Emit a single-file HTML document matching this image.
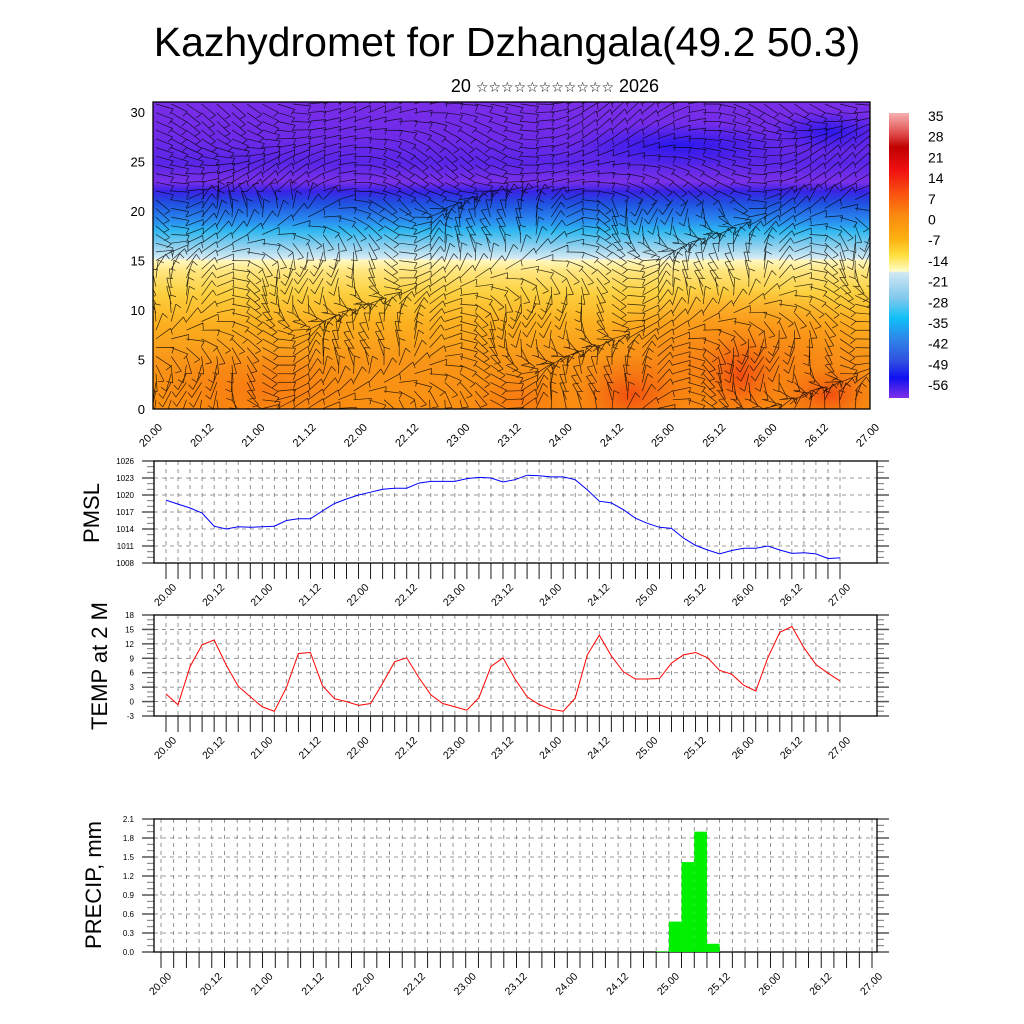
<!DOCTYPE html>
<html><head><meta charset="utf-8"><style>
html,body{margin:0;padding:0;background:#fff;}
svg{display:block;font-family:"Liberation Sans","DejaVu Sans",sans-serif;}
</style></head><body>
<svg id="chart" width="1024" height="1024" viewBox="0 0 1024 1024" xmlns="http://www.w3.org/2000/svg">
<defs>
<linearGradient id="tgrad" x1="0" y1="0" x2="0" y2="1">
<stop offset="0" stop-color="#7a2ee8"/>
<stop offset="0.12" stop-color="#6e2ae8"/>
<stop offset="0.2" stop-color="#5a26e8"/>
<stop offset="0.26" stop-color="#7a30e8"/>
<stop offset="0.29" stop-color="#3a22e6"/>
<stop offset="0.33" stop-color="#2050e0"/>
<stop offset="0.39" stop-color="#2a90f0"/>
<stop offset="0.42" stop-color="#30b8f0"/>
<stop offset="0.47" stop-color="#90d0ee"/>
<stop offset="0.51" stop-color="#d8ecf4"/>
<stop offset="0.515" stop-color="#fff8c0"/>
<stop offset="0.55" stop-color="#ffe680"/>
<stop offset="0.62" stop-color="#fcd040"/>
<stop offset="0.72" stop-color="#fcb020"/>
<stop offset="0.85" stop-color="#f89418"/>
<stop offset="1" stop-color="#fa9010"/>
</linearGradient>
<radialGradient id="redblob"><stop offset="0" stop-color="#f04010" stop-opacity="0.8"/><stop offset="1" stop-color="#f06010" stop-opacity="0"/></radialGradient>
<radialGradient id="orblob"><stop offset="0" stop-color="#f87010" stop-opacity="0.7"/><stop offset="1" stop-color="#f87010" stop-opacity="0"/></radialGradient>
<radialGradient id="blueblob"><stop offset="0" stop-color="#1010f0" stop-opacity="0.7"/><stop offset="1" stop-color="#1010f0" stop-opacity="0"/></radialGradient>
<linearGradient id="cbgrad" x1="0" y1="0" x2="0" y2="1">
<stop offset="0" stop-color="#f8b0b0"/>
<stop offset="0.07" stop-color="#e05050"/>
<stop offset="0.12" stop-color="#c00000"/>
<stop offset="0.2" stop-color="#f01010"/>
<stop offset="0.28" stop-color="#fa5010"/>
<stop offset="0.36" stop-color="#fa8a10"/>
<stop offset="0.44" stop-color="#fcb010"/>
<stop offset="0.5" stop-color="#ffe040"/>
<stop offset="0.555" stop-color="#fffcc8"/>
<stop offset="0.56" stop-color="#d0e8f4"/>
<stop offset="0.65" stop-color="#80c8ec"/>
<stop offset="0.72" stop-color="#10c0f8"/>
<stop offset="0.8" stop-color="#3080e8"/>
<stop offset="0.87" stop-color="#3050e0"/>
<stop offset="0.93" stop-color="#1010f0"/>
<stop offset="1" stop-color="#8030e8"/>
</linearGradient>
<clipPath id="topclip"><rect x="153" y="102" width="717" height="307"/></clipPath>
</defs>

<text x="507" y="56" font-size="41" text-anchor="middle">Kazhydromet for Dzhangala(49.2 50.3)</text>
<text x="555" y="92" font-size="18" text-anchor="middle">20 <tspan font-size="14">☆☆☆☆☆☆☆☆☆☆☆</tspan> 2026</text>

<g id="top">
<g clip-path="url(#topclip)">
<rect x="153" y="102" width="717" height="307" fill="url(#tgrad)"/>
<ellipse cx="260" cy="390" rx="110" ry="40" fill="url(#orblob)"/>
<ellipse cx="520" cy="400" rx="60" ry="30" fill="url(#orblob)"/>
<ellipse cx="740" cy="360" rx="150" ry="75" fill="url(#orblob)"/>
<ellipse cx="630" cy="395" rx="60" ry="40" fill="url(#redblob)"/>
<ellipse cx="740" cy="375" rx="40" ry="40" fill="url(#redblob)"/>
<ellipse cx="830" cy="395" rx="50" ry="30" fill="url(#redblob)"/>
<ellipse cx="680" cy="145" rx="110" ry="22" fill="url(#blueblob)"/>
<ellipse cx="830" cy="132" rx="60" ry="20" fill="url(#blueblob)"/>
<g id="barbs" stroke="#000" stroke-width="0.7" stroke-opacity="0.8" fill="none"></g>
</g>
<rect x="153" y="102" width="717" height="307" fill="none" stroke="#000" stroke-width="1.3"/>
<g id="topaxes"></g>
</g>

<g id="cbar">
<rect x="889" y="113" width="20" height="285" fill="url(#cbgrad)"/>
<g id="cblabels"></g>
</g>

<g id="pmsl"></g>
<g id="temp"></g>
<g id="precip"></g>

<text transform="translate(99,513) rotate(-90)" font-size="22" text-anchor="middle">PMSL</text>
<text transform="translate(107,666) rotate(-90)" font-size="22" text-anchor="middle">TEMP at 2 M</text>
<text transform="translate(101,885) rotate(-90)" font-size="22" text-anchor="middle">PRECIP, mm</text>
</svg>
<script>
// ---- data ----
const timeLabels = ["20.00","20.12","21.00","21.12","22.00","22.12","23.00","23.12","24.00","24.12","25.00","25.12","26.00","26.12","27.00"];
const pmslValues = [1019.1,1018.4,1017.7,1016.8,1014.5,1014.0,1014.4,1014.3,1014.4,1014.5,1015.5,1015.8,1015.8,1017.2,1018.5,1019.3,1020.0,1020.5,1021.0,1021.2,1021.2,1022.1,1022.4,1022.4,1022.4,1022.9,1023.1,1023.0,1022.3,1022.7,1023.5,1023.4,1023.2,1023.2,1022.7,1020.9,1018.9,1018.6,1017.4,1015.9,1015.0,1014.3,1014.1,1012.4,1011.1,1010.3,1009.6,1010.2,1010.6,1010.6,1011.0,1010.3,1009.7,1009.8,1009.6,1008.8,1008.9];
const pmslTicks = [1008,1011,1014,1017,1020,1023,1026];
const tempValues = [1.6,-0.7,7.3,11.8,12.8,7.6,3.2,1.0,-1.1,-2.0,2.9,10.0,10.2,3.3,0.6,0,-0.8,-0.4,3.8,8.3,9.1,5.0,1.4,-0.4,-1.1,-1.8,0.8,7.3,9.1,4.7,1.0,-0.6,-1.6,-2.0,0.7,9.7,13.8,9.5,6.2,4.7,4.7,4.8,8.0,9.7,10.2,9.1,6.5,5.7,3.4,2.2,9.1,14.4,15.6,11.2,7.7,5.9,4.3];
const tempTicks = [-3,0,3,6,9,12,15,18];
const precipIndex = [39,40,41,42,43];
const precipValues = [0.01,0.48,1.42,1.9,0.13];
const precipTicks = [0.0,0.3,0.6,0.9,1.2,1.5,1.8,2.1];
const heightTicks = [0,5,10,15,20,25,30];
const colorbarLabels = ["35","28","21","14","7","0","-7","-14","-21","-28","-35","-42","-49","-56"];

const NS="http://www.w3.org/2000/svg";
function mk(tag,attrs,parent,text){const e=document.createElementNS(NS,tag);for(const k in attrs)e.setAttribute(k,attrs[k]);if(text!==undefined)e.textContent=text;parent.appendChild(e);return e;}

// top panel axes
const topAx=document.getElementById('topaxes');
const hY=h=>409-h*9.9;
heightTicks.forEach(h=>{
  const t=mk('text',{x:145,y:hY(h)+5,'font-size':13,'text-anchor':'end'},topAx,String(h));
  
  
});
const tX=i=>153+i*(717/14);
timeLabels.forEach((l,i)=>{
  const x=tX(i)+10, y=428;
  const t=mk('text',{x:x,y:y,'font-size':11,'text-anchor':'end',transform:`rotate(-45 ${x} ${y})`},topAx,l);
  
  
});

// wind barbs (decorative)
const bg=document.getElementById('barbs');
let d='';
for(let r=0;r<36;r++){for(let c=0;c<48;c++){
  const x=156+c*15.2, y=104+r*8.7;
  const h=(409-y)/9.9;
  let ang=Math.sin(c*0.35+r*0.22)*1.4+Math.cos(c*0.13-r*0.4)*0.8;
  if(h>22) ang*=0.35;
  const L=18;
  const dx=Math.cos(ang)*L, dy=Math.sin(ang)*L;
  d+=`M${x.toFixed(1)} ${y.toFixed(1)}l${dx.toFixed(1)} ${dy.toFixed(1)}`;
  const bx=-Math.sin(ang)*6, by=Math.cos(ang)*6;
  d+=`M${(x+dx).toFixed(1)} ${(y+dy).toFixed(1)}l${(bx-dx*0.12).toFixed(1)} ${(by-dy*0.12).toFixed(1)}`;
}}
mk('path',{d:d},bg);

// colorbar labels
const cbl=document.getElementById('cblabels');
colorbarLabels.forEach((l,i)=>{
  const t=mk('text',{x:928,y:121+i*20.7,'font-size':14},cbl,l);
  
  
});

// generic line panel
function panel(gid,top,bot,x0,x1,ymin,ymax,ticks,fmt,nT){
  const g=document.getElementById(gid);
  const L=154,R=877;
  const yS=v=>bot-(v-ymin)/(ymax-ymin)*(bot-top);
  const xS=i=>x0+i*(x1-x0)/nT;
  ticks.forEach(v=>{mk('line',{x1:L,x2:R,y1:yS(v),y2:yS(v),stroke:'#777','stroke-width':0.8,'stroke-dasharray':'4 4'},g);
    const t=mk('text',{x:L-20,y:yS(v)+3,'font-size':8,'text-anchor':'end'},g,fmt(v));
    
    
    mk('line',{x1:L-12,x2:L,y1:yS(v),y2:yS(v),stroke:'#555','stroke-width':1.5},g);
    mk('line',{x1:R,x2:R+12,y1:yS(v),y2:yS(v),stroke:'#555','stroke-width':1.5},g);
  });
  for(let k=0;k<ticks.length-1;k++){for(let m=1;m<3;m++){const y=yS(ticks[k]+(ticks[k+1]-ticks[k])*m/3);
    mk('line',{x1:L-7,x2:L,y1:y,y2:y,stroke:'#777','stroke-width':1},g);mk('line',{x1:R,x2:R+7,y1:y,y2:y,stroke:'#777','stroke-width':1},g);}}
  for(let i=0;i<=nT;i++){const x=xS(i);
    mk('line',{x1:x,x2:x,y1:top,y2:bot,stroke:'#777','stroke-width':0.8,'stroke-dasharray':'4 4'},g);
    mk('line',{x1:x,x2:x,y1:bot,y2:bot+16,stroke:'#000','stroke-width':0.9},g);}
  timeLabels.forEach((l,i)=>{const x=xS(i*4)+11,y=bot+25;
    const t=mk('text',{x:x,y:y,'font-size':10.5,'text-anchor':'end',transform:`rotate(-45 ${x} ${y})`},g,l);
    
    });
  mk('rect',{x:L,y:top,width:R-L,height:bot-top,fill:'none',stroke:'#000','stroke-width':1.3},g);
  return {g,xS,yS};
}
const p1=panel('pmsl',461,563,166,840,1008,1026,pmslTicks,v=>String(v),56);
const pl=mk('polyline',{points:pmslValues.map((v,i)=>p1.xS(i).toFixed(1)+','+p1.yS(v).toFixed(1)).join(' '),fill:'none',stroke:'#0000ff','stroke-width':1},p1.g);



const p2=panel('temp',615,716,166,840,-3,18,tempTicks,v=>String(v),56);
const tl=mk('polyline',{points:tempValues.map((v,i)=>p2.xS(i).toFixed(1)+','+p2.yS(v).toFixed(1)).join(' '),fill:'none',stroke:'#ff0000','stroke-width':1},p2.g);



const p3=panel('precip',819,952,161,872,0,2.1,precipTicks,v=>v.toFixed(1),56);
precipIndex.forEach((ix,k)=>{
  const x=p3.xS(ix), w=p3.xS(ix+1)-x, y=p3.yS(precipValues[k]);
  const b=mk('rect',{x:x,y:y,width:w,height:952-y,fill:'#00f000'},p3.g);
  
  
});
</script>
</body></html>
